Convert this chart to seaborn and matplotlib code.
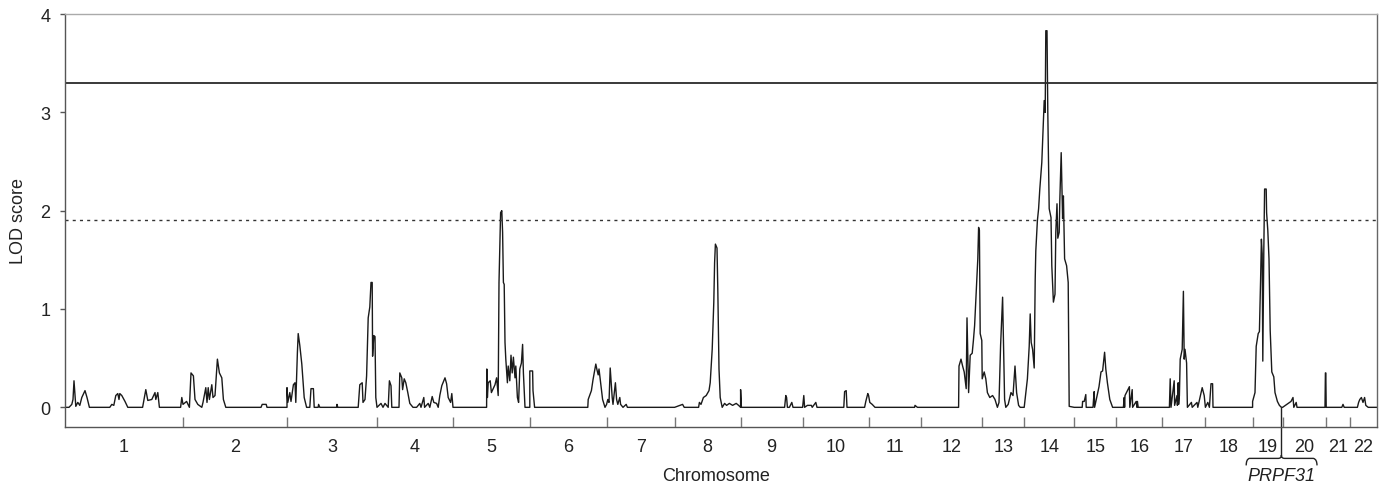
import pandas as pd
import seaborn as sns
import matplotlib.pyplot as plt
from matplotlib.path import Path
from matplotlib.patches import PathPatch

# chromosome names and genetic lengths (cM)
chrom_names = [str(i) for i in range(1, 23)]
chrom_len = [295, 260, 225, 190, 192, 192, 170, 165, 155, 165, 132,
             152, 105, 125, 105, 115, 108, 118, 75, 108, 60, 68]

# (position in cM within chromosome, LOD score)
chr1 = [(0, 0), (10, 0), (17, 0.03), (20, 0.08), (22.5, 0.27), (27, 0.01), (32, 0.05),
        (37, 0.02), (42, 0.10), (50, 0.17), (55, 0.10), (61, 0), (112, 0), (117, 0.03),
        (122, 0.02), (127, 0.12), (132, 0.14), (135, 0.08), (137, 0.14), (142, 0.12),
        (150, 0.06), (157, 0), (194, 0), (202, 0.18), (207, 0.07), (217, 0.08),
        (225, 0.15), (227, 0.08), (232, 0.15), (236, 0), (289, 0), (292, 0.10), (295, 0.03)]
chr2 = [(0, 0.03), (9, 0.06), (16, 0), (20, 0.35), (26, 0.32), (30, 0.08), (37, 0.03),
        (47, 0), (50, 0.05), (57, 0.20), (60, 0.05), (63, 0.20), (66, 0.08), (72, 0.23),
        (75, 0.10), (80, 0.12), (86, 0.49), (91, 0.35), (97, 0.30), (101, 0.08), (107, 0),
        (195, 0), (198, 0.03), (208, 0.03), (210, 0), (260, 0)]
chr3 = [(0, 0.2), (2, 0.05), (7, 0.15), (10, 0.06), (16, 0.23), (20, 0.25), (22, 0.05),
        (26, 0.56), (28, 0.75), (32, 0.63), (37, 0.44), (43, 0.10), (49, 0), (57, 0),
        (60, 0.19), (66, 0.19), (68, 0), (78, 0), (79, 0.03), (82, 0), (124, 0), (125, 0.03),
        (127, 0), (178, 0), (182, 0.23), (188, 0.25), (190, 0.05), (195, 0.08), (199, 0.32),
        (203, 0.91), (207, 1.02), (210, 1.27), (213, 1.27), (214, 0.52), (217, 0.73),
        (220, 0.72), (222, 0.10), (225, 0)]
chr4 = [(0, 0), (10, 0.04), (15, 0), (20, 0.04), (28, 0), (31, 0.27), (35, 0.22), (37, 0),
        (55, 0), (57, 0.35), (62, 0.30), (64, 0.18), (68, 0.29), (72, 0.25), (77, 0.15),
        (82, 0.04), (90, 0), (99, 0), (107, 0.04), (110, 0), (117, 0.10), (119, 0),
        (128, 0.04), (132, 0), (138, 0.11), (142, 0.05), (149, 0.04), (153, 0), (157, 0.12),
        (162, 0.22), (170, 0.30), (174, 0.24), (178, 0.10), (184, 0.05), (187, 0.14), (190, 0)]
chr5 = [(0, 0), (84, 0), (84.5, 0.39), (86, 0.10), (88, 0.25), (93, 0.27), (96, 0.15),
        (105, 0.23), (109, 0.30), (113, 0.12), (115, 1.27), (119, 1.98), (122, 2.0),
        (124, 1.78), (126, 1.27), (128, 1.25), (130, 0.66), (132, 0.49), (136, 0.25),
        (138, 0.42), (142, 0.27), (145, 0.53), (148, 0.35), (151, 0.51), (155, 0.30),
        (157, 0.42), (161, 0.10), (164, 0.05), (167, 0.39), (171, 0.45), (174, 0.64),
        (176, 0.35), (180, 0), (192, 0)]
chr6 = [(0, 0.37), (7, 0.37), (8, 0.17), (12, 0), (145, 0), (146, 0.08), (154, 0.17),
        (158, 0.28), (165, 0.44), (168, 0.38), (171, 0.33), (173, 0.39), (177, 0.25),
        (182, 0.08), (188, 0), (192, 0.03)]
chr7 = [(0, 0.03), (3, 0.08), (6, 0.05), (9, 0.40), (14, 0.10), (16, 0.03), (22, 0.25),
        (25, 0.08), (28, 0.03), (33, 0.10), (35, 0.03), (41, 0), (49, 0.03), (52, 0), (170, 0)]
chr8 = [(0, 0), (20, 0.03), (24, 0), (37, 0), (60, 0), (62, 0.05), (66, 0.03), (72, 0.10),
        (79, 0.12), (86, 0.17), (89, 0.25), (94, 0.59), (98, 1.07), (100, 1.47), (102, 1.66),
        (106, 1.62), (108, 1.2), (111, 0.39), (114, 0.10), (119, 0), (125, 0.04), (130, 0.02),
        (137, 0.04), (145, 0.02), (154, 0.04), (160, 0.02), (165, 0)]
chr9 = [(0, 0.18), (2, 0), (110, 0), (113, 0.12), (115, 0.10), (117, 0), (122, 0),
        (128, 0.05), (131, 0), (155, 0)]
chr10 = [(0, 0), (3, 0.12), (5, 0), (12, 0.02), (22, 0.02), (24, 0), (33, 0.05), (36, 0),
         (103, 0), (105, 0.16), (109, 0.17), (111, 0), (155, 0), (158, 0.06), (163, 0.14),
         (165, 0.12)]
chr11 = [(0, 0.12), (3, 0.05), (9, 0.03), (16, 0), (115, 0), (116, 0.02), (119, 0.01),
         (122, 0), (132, 0)]
chr12 = [(0, 0), (93, 0), (94, 0.42), (99, 0.49), (103, 0.42), (107, 0.36), (112, 0.19),
         (114, 0.91), (118, 0.15), (122, 0.53), (127, 0.55), (130, 0.68), (133, 0.83),
         (137, 1.17), (141, 1.51), (143, 1.83), (145, 1.80), (147, 0.75), (151, 0.68),
         (152, 0.29)]
chr13 = [(0, 0.29), (5, 0.36), (9, 0.29), (13, 0.15), (19, 0.10), (26, 0.12), (32, 0.08),
         (38, 0), (42, 0.05), (46, 0.63), (51, 1.12), (53, 0.69), (56, 0.08), (59, 0),
         (65, 0.03), (72, 0.15), (77, 0.12), (82, 0.42), (86, 0.15), (91, 0.02), (95, 0),
         (105, 0)]
chr14 = [(0, 0), (8, 0.29), (12.5, 0.62), (15, 0.95), (17.5, 0.66), (21, 0.59), (25, 0.40),
         (27.5, 1.30), (29, 1.59), (33, 1.9), (36, 2.02), (39, 2.22), (44, 2.49), (47.5, 2.86),
         (50, 3.12), (52.5, 3.0), (54, 3.83), (57, 3.83), (59, 3.0), (62.5, 2.02), (67, 1.93),
         (69, 1.44), (73, 1.07), (77, 1.15), (79, 1.78), (82, 2.07), (84, 1.72), (87.5, 1.78),
         (89, 2.1), (92.5, 2.59), (96, 1.92), (98, 2.15), (101, 1.51), (106, 1.44),
         (110, 1.27), (112.5, 0.01), (125, 0)]
chr15 = [(0, 0), (20, 0), (21, 0.06), (25, 0.06), (29, 0.13), (30, 0), (47, 0), (48, 0.06),
         (50, 0.16), (51, 0), (62, 0.21), (67, 0.36), (71, 0.37), (76, 0.56), (79, 0.39),
         (83, 0.25), (89, 0.08), (96, 0), (105, 0)]
chr16 = [(0, 0), (18, 0), (20, 0.10), (21, 0), (22, 0.12), (33, 0.21), (34, 0), (40, 0.18),
         (41, 0), (50, 0.06), (52, 0), (53, 0.06), (55, 0), (115, 0)]
chr17 = [(0, 0), (18, 0), (20, 0.29), (22, 0), (30, 0.27), (31, 0.02), (37, 0.12),
         (38, 0.02), (40, 0.25), (41, 0.03), (43, 0.12), (45, 0.49), (50, 0.59), (53, 1.18),
         (55, 0.49), (57, 0.59), (61, 0.45), (63, 0), (73, 0.05), (75, 0), (87, 0.05),
         (89, 0), (100, 0.20), (105, 0.12), (108, 0)]
chr18 = [(0, 0), (6, 0.05), (10, 0), (14, 0.24), (18, 0.24), (19, 0), (118, 0)]
chr19 = [(0, 0.06), (6, 0.15), (9, 0.62), (14, 0.75), (17, 0.77), (20, 1.30), (22, 1.71),
         (24, 1.56), (25.5, 0.47), (28, 1.59), (30, 2.22), (34, 2.22), (35, 1.98), (38, 1.80),
         (41, 1.51), (44, 0.78), (48, 0.36), (53, 0.31), (56, 0.15), (62, 0.06), (67, 0.02),
         (72, 0), (75, 0)]
chr20 = [(0, 0), (21, 0.06), (26, 0.10), (28, 0), (34, 0.05), (36, 0), (106, 0),
         (107, 0.35), (108, 0.35)]
chr21 = [(0, 0.35), (1, 0), (40, 0), (43, 0.03), (46, 0), (60, 0)]
chr22 = [(0, 0), (19, 0), (22, 0.05), (25, 0.08), (29, 0.10), (33, 0.05), (37, 0.10),
         (40, 0.02), (46, 0), (68, 0)]

chroms = [chr1, chr2, chr3, chr4, chr5, chr6, chr7, chr8, chr9, chr10, chr11,
          chr12, chr13, chr14, chr15, chr16, chr17, chr18, chr19, chr20, chr21, chr22]

thr_significant = 3.3
thr_suggestive = 1.91

gene_label = 'PRPF31'
gene_chrom = 19
gene_cm = 72

# build genome-wide positions
rows = []
offsets = []
offset = 0
for length, pts in zip(chrom_len, chroms):
    offsets.append(offset)
    for cm, lod in pts:
        rows.append((offset + cm, lod))
    offset += length
total_len = offset
df = pd.DataFrame(rows, columns=['pos', 'lod'])

sns.set_style('ticks')
plt.rcParams['font.family'] = ['Liberation Sans', 'DejaVu Sans']

fig = plt.figure(figsize=(13.86, 4.85), dpi=100)
ax = fig.add_axes([65 / 1386, 1 - 428 / 485, 1312 / 1386, 413 / 485])

sns.lineplot(data=df, x='pos', y='lod', ax=ax, estimator=None, sort=False,
             color='#1a1a1a', linewidth=1.0)

ax.axhline(thr_significant, color='#2a2a2a', lw=1.3)
ax.axhline(thr_suggestive, color='#333333', lw=1.0, dashes=(2.2, 3.0))

ax.set_xlim(0, total_len)
ax.set_ylim(-0.2, 4)
ax.set_yticks([0, 1, 2, 3, 4])

centers = [o + l / 2 for o, l in zip(offsets, chrom_len)]
ax.set_xticks(centers)
ax.set_xticklabels(chrom_names)
ax.set_xticks(offsets[1:], minor=True)
ax.tick_params(axis='x', which='major', length=0, pad=8, labelsize=13, colors='#222222')
ax.tick_params(axis='x', which='minor', direction='in', length=7.2, width=1, color='#777777')
ax.tick_params(axis='y', length=3.6, width=1, color='#555555', pad=7, labelsize=13,
               labelcolor='#222222')

ax.set_xlabel('Chromosome', fontsize=13, color='#222222')
ax.xaxis.set_label_coords(0.496, -0.128)
ax.xaxis.label.set_va('baseline')
ax.set_ylabel('LOD score', fontsize=13, color='#222222')
ax.yaxis.set_label_coords(-0.029, 0.5)

for side, col in [('top', '#aaaaaa'), ('right', '#666666'), ('left', '#555555'), ('bottom', '#555555')]:
    ax.spines[side].set_visible(True)
    ax.spines[side].set_color(col)
    ax.spines[side].set_linewidth(1)

# gene marker with brace below the axis
gx = offsets[gene_chrom - 1] + gene_cm
trans = ax.get_xaxis_transform()
y0 = (0 - ax.get_ylim()[0]) / (ax.get_ylim()[1] - ax.get_ylim()[0])
ax.plot([gx, gx], [y0, -0.068], transform=trans, color='#222222', lw=1.0, clip_on=False)
verts = [(gx - 88, -0.093), (gx - 88, -0.078), (gx - 80, -0.076),
         (gx - 8, -0.076), (gx, -0.076), (gx, -0.068),
         (gx, -0.076), (gx + 8, -0.076),
         (gx + 80, -0.076), (gx + 89, -0.078), (gx + 89, -0.093)]
codes = [Path.MOVETO, Path.CURVE3, Path.CURVE3,
         Path.LINETO, Path.CURVE3, Path.CURVE3,
         Path.CURVE3, Path.CURVE3,
         Path.LINETO, Path.CURVE3, Path.CURVE3]
ax.add_patch(PathPatch(Path(verts, codes), transform=trans, fill=False,
                       edgecolor='#222222', lw=1.0, clip_on=False))
ax.text(gx, -0.128, gene_label, transform=trans, ha='center', va='baseline',
        fontsize=13, style='italic', color='#222222')

fig.savefig('out.png', dpi=100)
